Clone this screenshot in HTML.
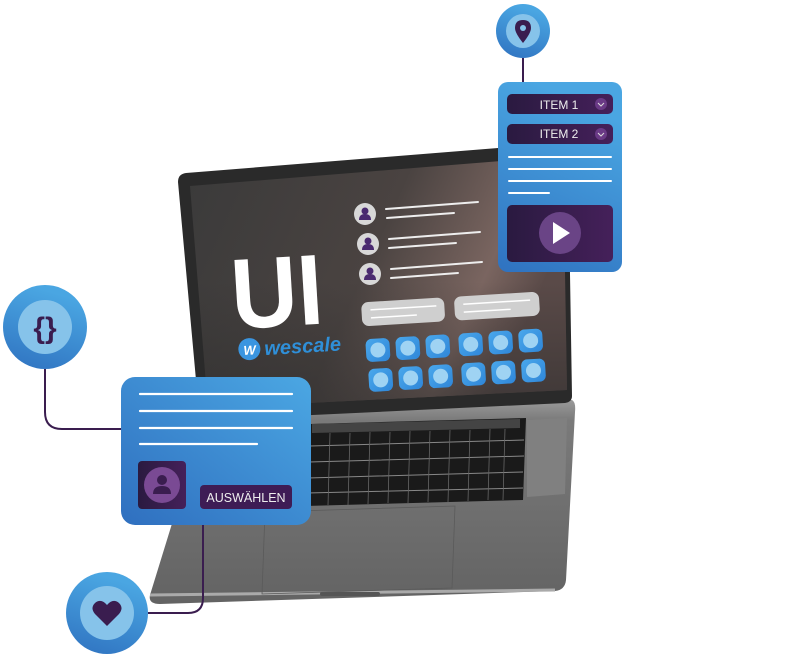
<!DOCTYPE html>
<html><head><meta charset="utf-8"><style>
html,body{margin:0;padding:0;background:#fff;width:800px;height:660px;overflow:hidden}
svg{display:block}
text{font-family:"Liberation Sans",sans-serif}
</style></head><body>
<svg width="800" height="660" viewBox="0 0 800 660" xmlns="http://www.w3.org/2000/svg">
<defs>
<linearGradient id="scr" x1="0" y1="0" x2="1" y2="0.3">
<stop offset="0" stop-color="#3a3a3a"/><stop offset="0.55" stop-color="#4a4341"/><stop offset="0.85" stop-color="#7a6560"/><stop offset="1" stop-color="#5a4a48"/></linearGradient>
<linearGradient id="scr2" x1="0" y1="1" x2="0" y2="0">
<stop offset="0" stop-color="#2c2c2c" stop-opacity="0.6"/><stop offset="0.5" stop-color="#2c2c2c" stop-opacity="0"/></linearGradient>
<linearGradient id="blue" x1="0" y1="1" x2="1" y2="0">
<stop offset="0" stop-color="#2f6fbf"/><stop offset="1" stop-color="#4ba7e3"/></linearGradient>
<linearGradient id="blueV" x1="0" y1="1" x2="0.3" y2="0">
<stop offset="0" stop-color="#2f72c0"/><stop offset="1" stop-color="#4aa6e2"/></linearGradient>
<linearGradient id="purp" x1="0" y1="0" x2="1" y2="0">
<stop offset="0" stop-color="#2a1a40"/><stop offset="1" stop-color="#45205a"/></linearGradient>
<linearGradient id="btn" x1="0" y1="0" x2="1" y2="1">
<stop offset="0" stop-color="#4aa8ec"/><stop offset="1" stop-color="#2f86d8"/></linearGradient>
<linearGradient id="base" x1="0" y1="0" x2="0" y2="1">
<stop offset="0" stop-color="#9a9a9a"/><stop offset="0.1" stop-color="#7a7a7a"/><stop offset="1" stop-color="#636363"/></linearGradient>
</defs>

<!-- laptop base -->
<path d="M207,410 L572,400 Q576,402 575,412 L566,580 Q565,590 555,591 L160,604 Q148,604 150,595 Z" fill="url(#base)"/>
<path d="M150,595 L555,590" stroke="#aaa" stroke-width="3"/>
<rect x="320" y="592" width="60" height="4" rx="2" fill="#555"/>
<path d="M310,424 L526,418 L523,500 L305,506 Z" fill="#1a1a1a"/>
<path d="M312,424 L520,419 L520,428 L312,433 Z" fill="#444"/>
<g stroke="#888" stroke-width="1">
<path d="M310,446 L524,440 M309,462 L524,456 M308,478 L523,472 M307,493 L523,488"/>
<path d="M330,433 L328,505 M350,433 L348,505 M370,432 L368,504 M390,432 L388,503 M410,431 L408,503 M430,431 L428,502 M450,430 L448,502 M470,430 L468,501 M490,429 L488,500 M505,429 L503,500" stroke-width="0.8" stroke="#666"/>
</g>
<path d="M527,420 L567,418 L565,494 L527,497 Z" fill="#808080"/>
<path d="M265,512 L455,506 L452,588 L262,594 Z" fill="none" stroke="#5a5a5a" stroke-width="0.8"/>

<!-- screen bezel -->
<path d="M186,173 L560,143 Q568,143 568,152 L572,396 Q572,402 565,403 L208,420 Q200,421 199,413 L178,182 Q178,174 186,173 Z" fill="#2a2a2a"/>
<path d="M190,186 L563,156 L567,390 L208,408 Z" fill="url(#scr)"/>
<path d="M190,186 L563,156 L567,390 L208,408 Z" fill="url(#scr2)"/>

<g transform="rotate(-3.5 380 290)">
<text x="231" y="320" font-size="100" fill="#fff" font-weight="700" textLength="92" lengthAdjust="spacingAndGlyphs">UI</text>
<circle cx="246" cy="341" r="11" fill="#3a95e0"/>
<text x="240" y="346.5" font-size="13" font-weight="700" font-style="italic" fill="#fff">W</text>
<text x="261" y="348" font-size="20" font-style="italic" font-weight="700" fill="#2f8fd8">wescale</text>
</g>

<!-- avatars and lines -->
<g fill="#d8d8d8">
<circle cx="365" cy="214" r="11"/><circle cx="368" cy="244" r="11"/><circle cx="370" cy="274" r="11"/></g>
<g fill="#4a2a70">
<circle cx="365" cy="211" r="3.5"/><path d="M359,220 Q359,214 365,214 Q371,214 371,220 Z"/>
<circle cx="368" cy="241" r="3.5"/><path d="M362,250 Q362,244 368,244 Q374,244 374,250 Z"/>
<circle cx="370" cy="271" r="3.5"/><path d="M364,280 Q364,274 370,274 Q376,274 376,280 Z"/>
</g>
<g stroke="#eee" stroke-width="2" stroke-linecap="round">
<path d="M386,209 L478,202 M387,218 L454,213"/>
<path d="M389,239 L480,232 M389,248 L456,243"/>
<path d="M391,269 L482,262 M391,278 L458,273"/>
</g>
<g transform="rotate(-3.5 450 300)">
<rect x="361" y="297" width="83" height="24" rx="7" fill="#cfcfcf"/>
<rect x="454" y="297" width="85" height="24" rx="7" fill="#cfcfcf"/>
<path d="M370,305 L436,305 M370,313 L416,313 M463,305 L530,305 M463,313 L510,313" stroke="#fff" stroke-width="1.5"/>
<g id="row1">
<rect x="363" y="334" width="24" height="23" rx="6" fill="url(#btn)"/><circle cx="375" cy="345.5" r="7.5" fill="#9fd3f3"/>
<rect x="393" y="334" width="24" height="23" rx="6" fill="url(#btn)"/><circle cx="405" cy="345.5" r="7.5" fill="#9fd3f3"/>
<rect x="423" y="334" width="24" height="23" rx="6" fill="url(#btn)"/><circle cx="435" cy="345.5" r="7.5" fill="#9fd3f3"/>
<rect x="456" y="334" width="24" height="23" rx="6" fill="url(#btn)"/><circle cx="468" cy="345.5" r="7.5" fill="#9fd3f3"/>
<rect x="486" y="334" width="24" height="23" rx="6" fill="url(#btn)"/><circle cx="498" cy="345.5" r="7.5" fill="#9fd3f3"/>
<rect x="516" y="334" width="24" height="23" rx="6" fill="url(#btn)"/><circle cx="528" cy="345.5" r="7.5" fill="#9fd3f3"/>
</g>
<use href="#row1" transform="translate(1,30)"/>
</g>

<!-- connectors -->
<g fill="none" stroke="#3a1d4f" stroke-width="2">
<path d="M45,369 L45,412 Q45,429 62,429 L122,429"/>
<path d="M203,525 L203,598 Q203,613 188,613 L148,613"/>
<path d="M523,58 L523,82"/>
</g>

<!-- left card -->
<rect x="121" y="377" width="190" height="148" rx="14" fill="url(#blue)"/>
<g stroke="#fff" stroke-width="2.2" stroke-linecap="round">
<path d="M140,394 L292,394 M140,411 L292,411 M140,428 L292,428 M140,444 L257,444"/></g>
<rect x="138" y="461" width="48" height="48" rx="4" fill="url(#purp)"/>
<circle cx="162" cy="485" r="18" fill="#7a4a94"/>
<circle cx="162" cy="480" r="5" fill="#3a1d4f"/><path d="M153,494 Q153,486 162,486 Q171,486 171,494 Z" fill="#3a1d4f"/>
<rect x="200" y="485" width="92" height="24" rx="4" fill="#3e1c55"/>
<text x="246" y="502" font-size="12.5" fill="#eee" text-anchor="middle">AUSWÄHLEN</text>

<!-- braces circle -->
<circle cx="45" cy="327" r="42" fill="url(#blueV)"/>
<circle cx="45" cy="327" r="27" fill="#86c3ea"/>
<text x="45" y="338" font-size="30" font-weight="700" fill="#3a1d4f" text-anchor="middle">{}</text>

<!-- heart circle -->
<circle cx="107" cy="613" r="41" fill="url(#blueV)"/>
<circle cx="107" cy="613" r="27" fill="#86c3ea"/>
<path d="M107,626 L95,614 Q90,608 95,603 Q101,598 107,605 Q113,598 119,603 Q124,608 119,614 Z" fill="#3a1d4f"/>

<!-- location circle -->
<circle cx="523" cy="31" r="27" fill="url(#blueV)"/>
<circle cx="523" cy="31" r="17" fill="#86c3ea"/>
<path d="M523,43 Q515,33 515,28 Q515,20 523,20 Q531,20 531,28 Q531,33 523,43 Z" fill="#3a1d4f"/>
<circle cx="523" cy="28" r="3" fill="#86c3ea"/>

<!-- right panel -->
<rect x="498" y="82" width="124" height="190" rx="10" fill="url(#blueV)"/>
<rect x="507" y="94" width="106" height="20" rx="5" fill="url(#purp)"/>
<rect x="507" y="124" width="106" height="20" rx="5" fill="url(#purp)"/>
<text x="559" y="109" font-size="12" fill="#eee" text-anchor="middle">ITEM 1</text>
<text x="559" y="138" font-size="12" fill="#eee" text-anchor="middle">ITEM 2</text>
<circle cx="601" cy="104" r="6" fill="#6a3a86"/><circle cx="601" cy="134" r="6" fill="#6a3a86"/>
<path d="M598,103 L601,106 L604,103 M598,133 L601,136 L604,133" fill="none" stroke="#ddd" stroke-width="1"/>
<g stroke="#fff" stroke-width="2" stroke-linecap="round">
<path d="M509,157 L611,157 M509,169 L611,169 M509,181 L611,181 M509,193 L549,193"/></g>
<rect x="507" y="205" width="106" height="57" rx="5" fill="url(#purp)"/>
<circle cx="560" cy="233" r="21" fill="#6a4486"/>
<path d="M553,222 L553,244 L570,233 Z" fill="#fff"/>
</svg>
</body></html>
